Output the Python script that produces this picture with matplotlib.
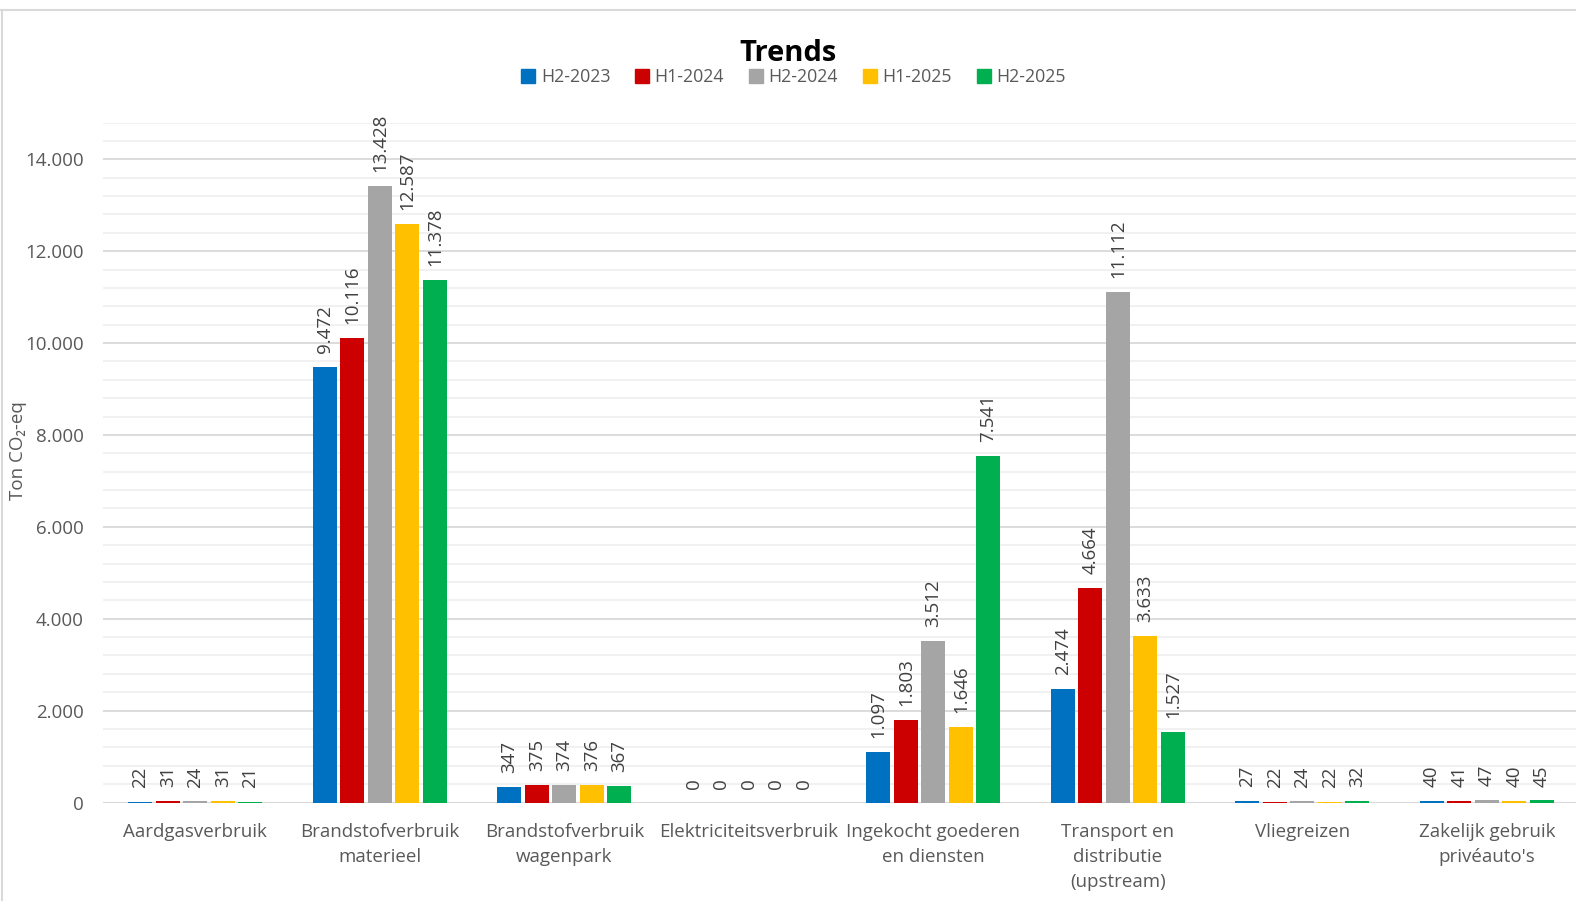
import numpy as np
import matplotlib.pyplot as plt
from matplotlib.lines import Line2D
from matplotlib.ticker import MultipleLocator, FuncFormatter

plt.rcParams['font.family'] = ['Open Sans', 'DejaVu Sans']

categories = [
    "Aardgasverbruik",
    "Brandstofverbruik\nmaterieel",
    "Brandstofverbruik\nwagenpark",
    "Elektriciteitsverbruik",
    "Ingekocht goederen\nen diensten",
    "Transport en\ndistributie\n(upstream)",
    "Vliegreizen",
    "Zakelijk gebruik\nprivéauto's",
]
series_names = ["H2-2023", "H1-2024", "H2-2024", "H1-2025", "H2-2025"]
h2_2023 = [22, 9472, 347, 0, 1097, 2474, 27, 40]
h1_2024 = [31, 10116, 375, 0, 1803, 4664, 22, 41]
h2_2024 = [24, 13428, 374, 0, 3512, 11112, 24, 47]
h1_2025 = [31, 12587, 376, 0, 1646, 3633, 22, 40]
h2_2025 = [21, 11378, 367, 0, 7541, 1527, 32, 45]
series = [h2_2023, h1_2024, h2_2024, h1_2025, h2_2025]
colors = ["#0070C0", "#CC0000", "#A5A5A5", "#FFC000", "#00B050"]


def nl(v, pos=None):
    return f"{int(v):,}".replace(",", ".")


fig = plt.figure(figsize=(15.76, 9.01), dpi=100)
ax = fig.add_axes([0.0654, 0.1093, 0.9366, 0.7547])

x = np.arange(len(categories))
slot = 0.149
for i, (name, vals, col) in enumerate(zip(series_names, series, colors)):
    pos = x + (i - 2) * slot
    bars = ax.bar(pos, vals, slot * 0.87, color=col, label=name, zorder=3)
    for b, v in zip(bars, vals):
        ax.annotate(nl(v), (b.get_x() + b.get_width() / 2, v),
                    xytext=(0, 10), textcoords="offset points",
                    rotation=90, ha="center", va="bottom",
                    fontsize=13.5, color="#404040")

ax.set_xlim(-0.5, len(categories) - 0.5)
ax.set_ylim(0, 14800)
ax.yaxis.set_major_locator(MultipleLocator(2000))
ax.yaxis.set_minor_locator(MultipleLocator(400))
ax.yaxis.set_major_formatter(FuncFormatter(nl))
ax.grid(axis="y", which="major", color="#d9d9d9", linewidth=1.3, zorder=0)
ax.grid(axis="y", which="minor", color="#f0f0f0", linewidth=1.3, zorder=0)
for s in ax.spines.values():
    s.set_visible(False)
ax.axhline(0, color="#d9d9d9", linewidth=1.5, zorder=2)

ax.set_xticks(x)
ax.set_xticklabels(categories, fontsize=13.5, color="#595959", linespacing=1.5)
ax.tick_params(axis="x", length=0, pad=15)
ax.tick_params(axis="y", which="both", length=0, pad=14, labelsize=13.5,
               labelcolor="#595959")

fig.text(0.0115, 0.5, "Ton CO₂-eq", rotation=90, ha="center", va="center",
         fontsize=13.5, color="#595959")

fig.text(0.5, 0.941, "Trends", ha="center", va="center", fontsize=21,
         fontweight="bold", color="black")
handles = [Line2D([], [], marker="s", linestyle="none", markersize=10,
                  markerfacecolor=c, markeredgecolor=c) for c in colors]
fig.legend(handles, series_names, loc="center", bbox_to_anchor=(0.503, 0.914),
           ncol=5, frameon=False, fontsize=12.8, handletextpad=0.2,
           columnspacing=1.3, labelcolor="#595959", handlelength=1.0)

# chart border (cropped outer frame)
fig.add_artist(Line2D([0, 1], [0.989, 0.989], color="#d9d9d9", linewidth=1.5,
                      transform=fig.transFigure))
fig.add_artist(Line2D([0.001, 0.001], [0, 0.989], color="#d9d9d9", linewidth=1.5,
                      transform=fig.transFigure))

fig.savefig("out.png", dpi=100)
